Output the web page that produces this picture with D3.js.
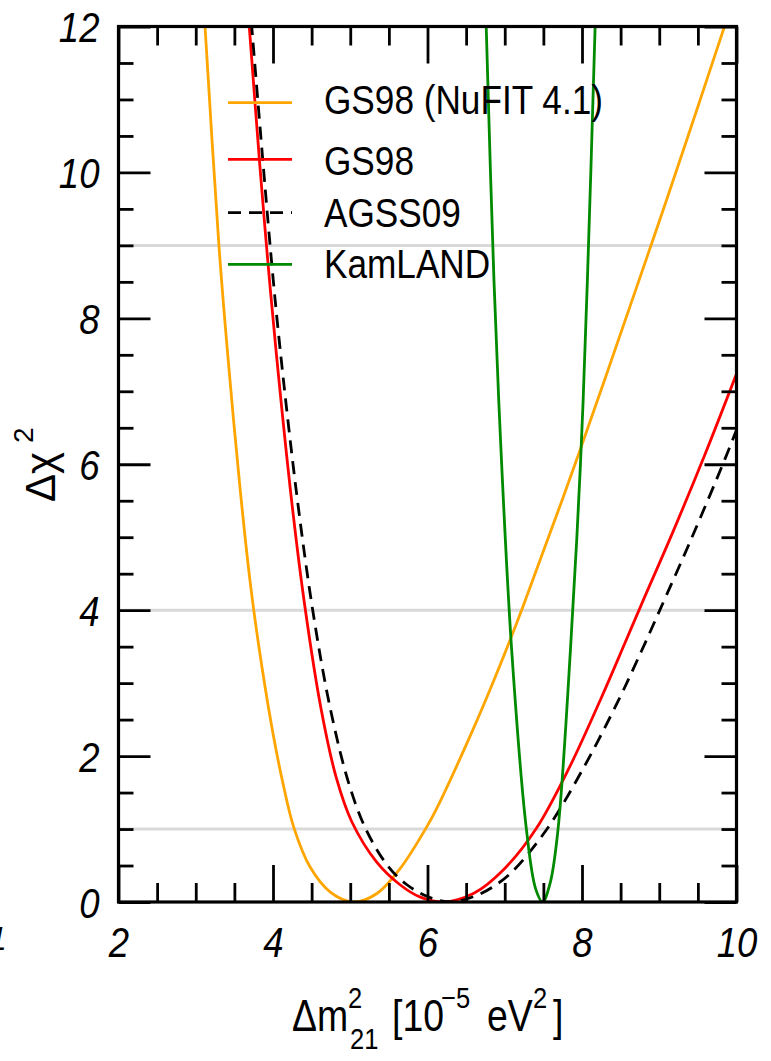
<!DOCTYPE html>
<html><head><meta charset="utf-8">
<script src="https://cdn.jsdelivr.net/npm/d3@7"></script>
<style>body{margin:0;background:#fff}svg{display:block}</style>
</head><body>
<script>
// ---- data ----
const xTicksMajor = [2, 4, 6, 8, 10];
const yTicksMajor = [0, 2, 4, 6, 8, 10, 12];
const gridLevels = [1, 4, 9];
const seriesNames = ["GS98 (NuFIT 4.1)", "GS98", "AGSS09", "KamLAND"];
const seriesColors = ["#ffa500", "#ff0000", "#000000", "#008a00"];

const orangeX = [3.12, 3.30, 3.41, 3.58, 3.72, 3.86, 4.00, 4.13, 4.27, 4.48, 4.75, 5.05, 5.35, 5.64, 5.99, 6.16, 6.55, 6.77, 7.05, 7.24, 7.95, 8.77, 9.10, 9.49, 9.86];
const orangeY = [12, 9.0, 7.55, 5.6, 4.25, 3.2, 2.31, 1.62, 1.02, 0.48, 0.13, 0, 0.12, 0.45, 1.03, 1.37, 2.27, 2.81, 3.54, 4.06, 6.12, 8.62, 9.64, 10.87, 12.05];

const redX = [3.69, 3.83, 3.93, 4.04, 4.24, 4.41, 4.62, 4.82, 5.02, 5.34, 5.64, 5.90, 6.20, 6.60, 7.00, 7.41, 7.83, 8.25, 8.56, 8.77, 9.18, 9.59, 10.0];
const redY = [12.04, 10.09, 8.82, 7.55, 5.51, 4.07, 2.66, 1.7, 1.1, 0.55, 0.24, 0.07, 0, 0.12, 0.46, 1.01, 1.83, 2.80, 3.56, 4.08, 5.08, 6.13, 7.24];

const agssX = [3.72, 3.97, 4.09, 4.31, 4.52, 4.74, 4.98, 5.21, 5.49, 5.73, 6.00, 6.30, 6.60, 6.85, 7.10, 7.54, 8.00, 8.47, 8.77, 8.99, 9.42, 9.85, 10.0];
const agssY = [12.06, 8.91, 7.6, 5.56, 3.96, 2.66, 1.63, 0.98, 0.49, 0.24, 0.075, 0, 0.075, 0.21, 0.42, 0.99, 1.80, 2.76, 3.44, 3.96, 4.99, 6.07, 6.47];

const kamX = [6.76, 6.86, 6.96, 7.09, 7.28, 7.40, 7.49, 7.59, 7.69, 7.85, 7.98, 8.07, 8.17];
const kamY = [12, 8.53, 6.0, 3.45, 1.0, 0.18, 0, 0.27, 1.0, 3.45, 6.0, 8.53, 12];

// ---- layout ----
const W = 771, H = 1061;
const L = 118.5, R = 736.5, T = 26.5, B = 902;
const x = d3.scaleLinear().domain([2, 10]).range([L, R]);
const y = d3.scaleLinear().domain([0, 12]).range([B, T]);

const svg = d3.select("body").append("svg").attr("width", W).attr("height", H);

svg.append("defs").append("clipPath").attr("id", "plotclip")
  .append("rect").attr("x", L).attr("y", T).attr("width", R - L).attr("height", B - T);

// grid lines
svg.append("g").selectAll("line").data(gridLevels).join("line")
  .attr("x1", L).attr("x2", R).attr("y1", d => y(d)).attr("y2", d => y(d))
  .attr("stroke", "#d9d9d9").attr("stroke-width", 3);

// curves
const series = [
  {xs: orangeX, ys: orangeY, dash: null},
  {xs: redX, ys: redY, dash: null},
  {xs: agssX, ys: agssY, dash: "13,8"},
  {xs: kamX, ys: kamY, dash: null}
];
const line = d3.line().x(d => x(d[0])).y(d => y(d[1])).curve(d3.curveCatmullRom.alpha(0.5));
const cg = svg.append("g").attr("clip-path", "url(#plotclip)");
series.forEach((s, i) => {
  cg.append("path").datum(s.xs.map((v, k) => [v, s.ys[k]]))
    .attr("d", line).attr("fill", "none")
    .attr("stroke", seriesColors[i]).attr("stroke-width", 2.8)
    .attr("stroke-dasharray", s.dash);
});

// axes
const minorX = x.ticks(16).filter(v => !xTicksMajor.includes(v));
const minorY = y.ticks(24).filter(v => !yTicksMajor.includes(v));
function styleAxis(g) {
  g.select(".domain").remove();
  g.selectAll(".tick line").attr("stroke", "#000").attr("stroke-width", 2.8);
}
const labFont = "'Liberation Sans', Arial, sans-serif";

svg.append("g").attr("transform", `translate(0,${B})`)
  .call(d3.axisBottom(x).tickValues(minorX).tickSize(-19).tickFormat("")).call(styleAxis);
const xb = svg.append("g").attr("transform", `translate(0,${B})`)
  .call(d3.axisBottom(x).tickValues(xTicksMajor).tickSize(-37).tickPadding(0).tickFormat(d3.format("d"))).call(styleAxis);
xb.selectAll("text").attr("y", 0).attr("dy", null)
  .attr("transform", "translate(0,55) scale(0.85,1)")
  .attr("font-family", labFont).attr("font-style", "italic").attr("font-size", 43).attr("fill", "#000");

svg.append("g").attr("transform", `translate(0,${T})`)
  .call(d3.axisTop(x).tickValues(minorX).tickSize(-19).tickFormat("")).call(styleAxis);
svg.append("g").attr("transform", `translate(0,${T})`)
  .call(d3.axisTop(x).tickValues(xTicksMajor).tickSize(-37).tickFormat("")).call(styleAxis);

svg.append("g").attr("transform", `translate(${L},0)`)
  .call(d3.axisLeft(y).tickValues(minorY).tickSize(-15).tickFormat("")).call(styleAxis);
const yl = svg.append("g").attr("transform", `translate(${L},0)`)
  .call(d3.axisLeft(y).tickValues(yTicksMajor).tickSize(-32).tickFormat(d3.format("d"))).call(styleAxis);
yl.selectAll("text").attr("x", 0).attr("dy", "0.36em")
  .attr("transform", "translate(-19,0) scale(0.85,1)")
  .attr("text-anchor", "end")
  .attr("font-family", labFont).attr("font-style", "italic").attr("font-size", 43).attr("fill", "#000");

svg.append("g").attr("transform", `translate(${R},0)`)
  .call(d3.axisRight(y).tickValues(minorY).tickSize(-15).tickFormat("")).call(styleAxis);
svg.append("g").attr("transform", `translate(${R},0)`)
  .call(d3.axisRight(y).tickValues(yTicksMajor).tickSize(-32).tickFormat("")).call(styleAxis);

// frame
svg.append("rect").attr("x", L).attr("y", T).attr("width", R - L).attr("height", B - T)
  .attr("fill", "none").attr("stroke", "#000").attr("stroke-width", 3.2);

// legend
const legLineY = [102.7, 159.3, 212.7, 264.3];
const legTextY = [113.5, 174.5, 226.5, 278];
const lg = svg.append("g");
seriesNames.forEach((name, i) => {
  lg.append("line").attr("x1", 228).attr("x2", 292).attr("y1", legLineY[i]).attr("y2", legLineY[i])
    .attr("stroke", seriesColors[i]).attr("stroke-width", 2.8)
    .attr("stroke-dasharray", series[i].dash);
  lg.append("text").attr("transform", `translate(324,${legTextY[i]}) scale(0.88,1)`)
    .attr("font-family", labFont).attr("font-size", 40).attr("fill", "#000").text(name);
});

// x title
const xt = svg.append("g").attr("font-family", labFont).attr("fill", "#000");
const xparts = [
  {t: "\u0394m", x: 292, y: 1031, s: 44},
  {t: "2", x: 348, y: 1008, s: 30},
  {t: "21", x: 350, y: 1049, s: 30},
  {t: "[10", x: 392, y: 1031, s: 44},
  {t: "\u22125", x: 441, y: 1008, s: 30},
  {t: "eV", x: 487, y: 1031, s: 44},
  {t: "2", x: 533, y: 1008, s: 30},
  {t: "]", x: 553, y: 1031, s: 44}
];
xparts.forEach(p => {
  xt.append("text").attr("transform", `translate(${p.x},${p.y}) scale(0.85,1)`)
    .attr("font-size", p.s).text(p.t);
});

// y title
const yt = svg.append("g").attr("transform", "translate(55,502) rotate(-90)")
  .attr("font-family", labFont).attr("fill", "#000");
yt.append("text").attr("x", 0).attr("y", 0).attr("font-size", 42).text("\u0394\u03c7");
yt.append("text").attr("x", 59).attr("y", -22).attr("font-size", 28).text("2");

// clipped label fragment at the left edge (as in the reference)
svg.append("text").attr("x", 7).attr("y", 950).attr("text-anchor", "end")
  .attr("font-family", labFont).attr("font-style", "italic").attr("font-size", 34).text("1");
</script>
</body></html>
